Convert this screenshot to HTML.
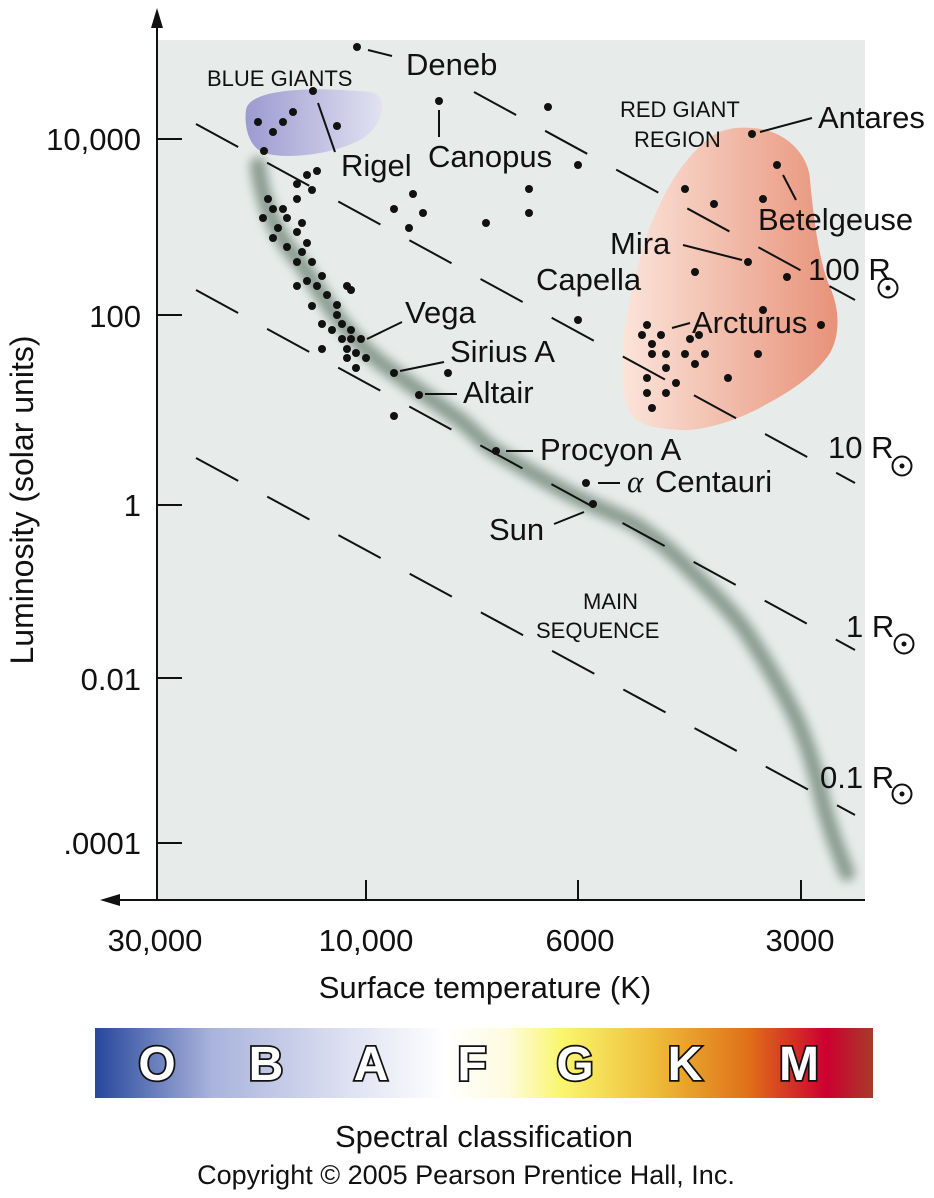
<!DOCTYPE html>
<html><head><meta charset="utf-8"><style>
html,body{margin:0;padding:0;background:#fff;}
svg{display:block;font-family:"Liberation Sans",sans-serif;}
</style></head><body>
<svg width="934" height="1198" viewBox="0 0 934 1198" xmlns="http://www.w3.org/2000/svg">
<defs>
<linearGradient id="bg1" x1="0" x2="1"><stop offset="0" stop-color="#9c9ad0"/><stop offset="1" stop-color="#e2e2f2"/></linearGradient>
<linearGradient id="rg" x1="0" x2="1"><stop offset="0" stop-color="#fbe4da"/><stop offset="1" stop-color="#e89279"/></linearGradient>
<linearGradient id="spec" x1="0" x2="1">
<stop offset="0" stop-color="#26479c"/><stop offset="0.15" stop-color="#a9b3dc"/><stop offset="0.33" stop-color="#dfe2f2"/><stop offset="0.45" stop-color="#ffffff"/><stop offset="0.53" stop-color="#fefbe0"/><stop offset="0.6" stop-color="#faf66e"/><stop offset="0.72" stop-color="#eebc38"/><stop offset="0.84" stop-color="#df7018"/><stop offset="0.94" stop-color="#cc0030"/><stop offset="1" stop-color="#a83a2a"/></linearGradient>
<filter id="blur" x="-20%" y="-20%" width="140%" height="140%"><feGaussianBlur stdDeviation="5"/></filter>
</defs>
<rect x="157" y="40" width="708" height="860" fill="#e7ecea"/>
<path d="M246,110 C250,85 330,88 370,92 C392,96 382,128 360,140 C330,156 280,160 262,152 C248,145 244,125 246,110Z" fill="url(#bg1)"/>
<path d="M752,128 C790,130 810,160 810,180 C813,210 818,260 830,287 C840,310 840,335 830,353 C815,375 793,390 765,405 C740,420 700,432 680,430 C650,428 630,425 625,400 C620,370 622,330 630,300 C638,265 645,235 655,215 C670,180 690,150 717,133 C728,128 740,127 752,128Z" fill="url(#rg)"/>
<path d="M258,165 C262,200 275,235 300,262 C320,290 340,330 380,362 C410,385 440,405 460,420 C475,432 485,445 497,452 C540,478 570,495 593,505 C615,515 635,522 647,533 C665,545 680,560 690,570 C715,595 735,615 747,633 C770,668 785,695 797,720 C810,750 818,780 823,803 C830,830 840,855 847,873" fill="none" stroke="#8a9c92" stroke-width="16" stroke-linecap="round" filter="url(#blur)"/>
<g stroke="#111" stroke-width="2" fill="none" stroke-dasharray="48 33">
<line x1="474" y1="92" x2="855" y2="300"/>
<line x1="196" y1="124" x2="855" y2="483"/>
<line x1="196" y1="290" x2="855" y2="650"/>
<line x1="196" y1="458" x2="855" y2="815"/>
</g>
<g stroke="#111" stroke-width="2">
<line x1="157" y1="14" x2="157" y2="900"/>
<line x1="108" y1="900" x2="865" y2="900"/>
<line x1="157" y1="139" x2="182" y2="139"/><line x1="157" y1="315" x2="182" y2="315"/><line x1="157" y1="505" x2="182" y2="505"/><line x1="157" y1="678" x2="182" y2="678"/><line x1="157" y1="843" x2="182" y2="843"/>
<line x1="366" y1="900" x2="366" y2="880"/><line x1="578" y1="900" x2="578" y2="880"/><line x1="801" y1="900" x2="801" y2="880"/>
<line x1="368" y1="50" x2="392" y2="56"/><line x1="318" y1="103" x2="335" y2="152"/><line x1="439" y1="110" x2="439" y2="137"/>
<line x1="760" y1="132" x2="812" y2="118"/><line x1="783" y1="175" x2="796" y2="200"/><line x1="683" y1="245" x2="742" y2="260"/>
<line x1="672" y1="328" x2="690" y2="323"/><line x1="367" y1="339" x2="402" y2="322"/><line x1="400" y1="371" x2="444" y2="362"/>
<line x1="425" y1="394" x2="457" y2="394"/><line x1="506" y1="451" x2="533" y2="451"/><line x1="598" y1="483" x2="620" y2="483"/><line x1="554" y1="524" x2="584" y2="512"/>
</g>
<path d="M157,8 L151,28 L163,28Z" fill="#111"/>
<path d="M100,900 L120,894 L120,906Z" fill="#111"/>
<g fill="#111">
<circle cx="357" cy="47" r="4"/><circle cx="313" cy="91" r="4"/><circle cx="439" cy="101" r="4"/><circle cx="258" cy="122" r="4"/><circle cx="283" cy="122" r="4"/><circle cx="293" cy="112" r="4"/><circle cx="273" cy="132" r="4"/><circle cx="337" cy="126" r="4"/><circle cx="264" cy="151" r="4"/>
<circle cx="317" cy="171" r="4"/><circle cx="307" cy="175" r="4"/><circle cx="297" cy="184" r="4"/><circle cx="312" cy="190" r="4"/><circle cx="413" cy="194" r="4"/><circle cx="268" cy="199" r="4"/><circle cx="297" cy="199" r="4"/><circle cx="394" cy="209" r="4"/><circle cx="423" cy="213" r="4"/><circle cx="273" cy="209" r="4"/><circle cx="283" cy="209" r="4"/><circle cx="263" cy="218" r="4"/><circle cx="287" cy="218" r="4"/><circle cx="302" cy="223" r="4"/><circle cx="409" cy="228" r="4"/><circle cx="278" cy="228" r="4"/><circle cx="297" cy="232" r="4"/><circle cx="273" cy="238" r="4"/><circle cx="307" cy="243" r="4"/><circle cx="287" cy="247" r="4"/><circle cx="302" cy="252" r="4"/><circle cx="297" cy="262" r="4"/><circle cx="312" cy="262" r="4"/><circle cx="322" cy="276" r="4"/><circle cx="307" cy="281" r="4"/><circle cx="297" cy="286" r="4"/><circle cx="317" cy="286" r="4"/><circle cx="347" cy="286" r="4"/><circle cx="351" cy="290" r="4"/><circle cx="327" cy="295" r="4"/><circle cx="337" cy="305" r="4"/><circle cx="312" cy="306" r="4"/><circle cx="337" cy="315" r="4"/><circle cx="322" cy="324" r="4"/><circle cx="342" cy="324" r="4"/><circle cx="332" cy="330" r="4"/><circle cx="351" cy="330" r="4"/><circle cx="342" cy="339" r="4"/><circle cx="351" cy="339" r="4"/><circle cx="361" cy="339" r="4"/><circle cx="322" cy="349" r="4"/><circle cx="347" cy="349" r="4"/><circle cx="356" cy="353" r="4"/><circle cx="347" cy="358" r="4"/><circle cx="366" cy="358" r="4"/><circle cx="356" cy="368" r="4"/><circle cx="394" cy="373" r="4"/><circle cx="448" cy="373" r="4"/><circle cx="419" cy="395" r="4"/><circle cx="394" cy="416" r="4"/>
<circle cx="548" cy="107" r="4"/><circle cx="578" cy="165" r="4"/><circle cx="529" cy="189" r="4"/><circle cx="529" cy="213" r="4"/><circle cx="486" cy="223" r="4"/><circle cx="578" cy="320" r="4"/><circle cx="496" cy="451" r="4"/><circle cx="586" cy="483" r="4"/><circle cx="593" cy="504" r="4"/>
<circle cx="752" cy="134" r="4"/><circle cx="777" cy="165" r="4"/><circle cx="685" cy="189" r="4"/><circle cx="714" cy="204" r="4"/><circle cx="763" cy="199" r="4"/><circle cx="748" cy="262" r="4"/><circle cx="695" cy="272" r="4"/><circle cx="787" cy="277" r="4"/><circle cx="763" cy="310" r="4"/><circle cx="821" cy="325" r="4"/><circle cx="647" cy="325" r="4"/><circle cx="642" cy="335" r="4"/><circle cx="661" cy="335" r="4"/><circle cx="690" cy="339" r="4"/><circle cx="699" cy="335" r="4"/><circle cx="652" cy="344" r="4"/><circle cx="652" cy="354" r="4"/><circle cx="666" cy="354" r="4"/><circle cx="685" cy="354" r="4"/><circle cx="705" cy="354" r="4"/><circle cx="758" cy="354" r="4"/><circle cx="695" cy="364" r="4"/><circle cx="666" cy="368" r="4"/><circle cx="647" cy="378" r="4"/><circle cx="676" cy="383" r="4"/><circle cx="728" cy="378" r="4"/><circle cx="647" cy="393" r="4"/><circle cx="666" cy="393" r="4"/><circle cx="652" cy="408" r="4"/>
</g>
<g fill="#111" font-size="31">
<text x="406" y="75">Deneb</text><text x="341" y="176">Rigel</text><text x="428" y="167">Canopus</text>
<text x="818" y="128">Antares</text><text x="758" y="230">Betelgeuse</text><text x="610" y="254">Mira</text>
<text x="536" y="290">Capella</text><text x="692" y="333">Arcturus</text><text x="405" y="323">Vega</text>
<text x="450" y="362">Sirius A</text><text x="463" y="403">Altair</text><text x="540" y="460">Procyon A</text>
<text x="627" y="492" font-family="Liberation Serif,serif" font-style="italic">α</text><text x="655" y="492">Centauri</text>
<text x="489" y="540">Sun</text>
<text x="808" y="280">100 R</text><text x="828" y="458">10 R</text><text x="846" y="637">1 R</text><text x="820" y="788">0.1 R</text>
</g>
<g fill="none" stroke="#111" stroke-width="2">
<circle cx="888" cy="288" r="9.5"/><circle cx="902" cy="466" r="9.5"/><circle cx="904" cy="644" r="9.5"/><circle cx="902" cy="794" r="9.5"/>
</g>
<g fill="#111"><circle cx="888" cy="288" r="2.5"/><circle cx="902" cy="466" r="2.5"/><circle cx="904" cy="644" r="2.5"/><circle cx="902" cy="794" r="2.5"/></g>
<g fill="#111" font-size="22">
<text x="207" y="86">BLUE GIANTS</text>
<text x="620" y="117">RED GIANT</text><text x="634" y="147">REGION</text>
<text x="583" y="609">MAIN</text><text x="536" y="638">SEQUENCE</text>
</g>
<g fill="#111" font-size="31" text-anchor="end">
<text x="141" y="150">10,000</text><text x="141" y="327">100</text><text x="141" y="516">1</text><text x="141" y="690">0.01</text><text x="141" y="854">.0001</text>
</g>
<g fill="#111" font-size="31" text-anchor="middle">
<text x="155" y="951">30,000</text><text x="366" y="951">10,000</text><text x="580" y="951">6000</text><text x="800" y="951">3000</text>
<text x="485" y="998">Surface temperature (K)</text>
<text x="484" y="1147">Spectral classification</text>
<text x="466" y="1184" font-size="27">Copyright © 2005 Pearson Prentice Hall, Inc.</text>
<text transform="translate(33,500) rotate(-90)" font-size="32">Luminosity (solar units)</text>
</g>
<rect x="95" y="1028" width="778" height="70" fill="url(#spec)"/>
<g font-size="48" font-weight="bold" fill="#fff" stroke="#111" stroke-width="3.5" text-anchor="middle" paint-order="stroke">
<text x="157" y="1080">O</text><text x="266" y="1080">B</text><text x="371" y="1080">A</text><text x="472" y="1080">F</text><text x="575" y="1080">G</text><text x="685" y="1080">K</text><text x="799" y="1080">M</text>
</g>
</svg>
</body></html>
